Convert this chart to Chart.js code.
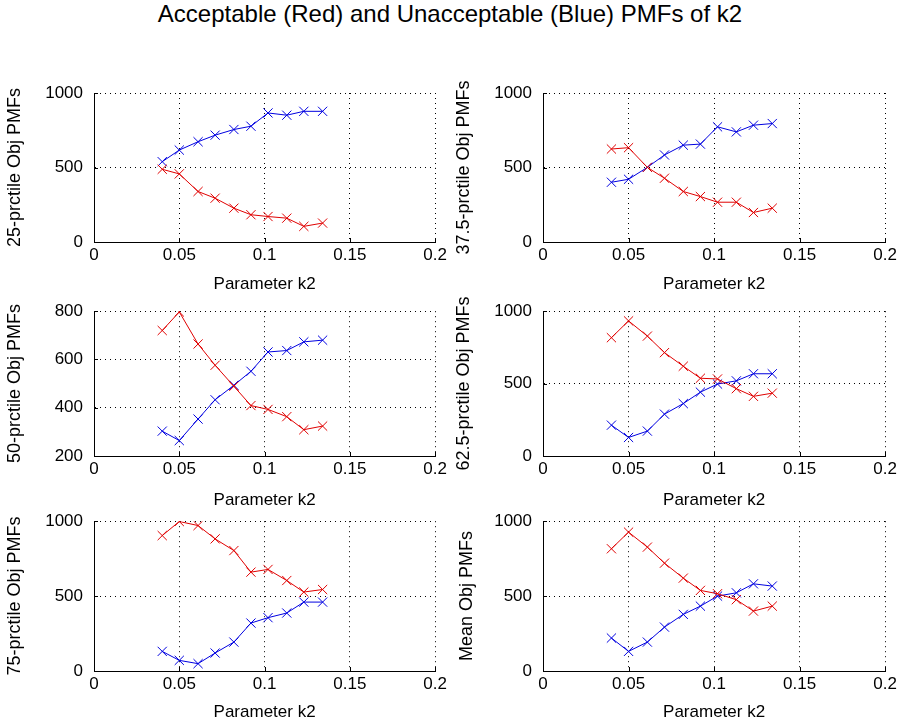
<!DOCTYPE html>
<html>
<head>
<meta charset="utf-8">
<script src="https://cdn.jsdelivr.net/npm/chart.js@4.4.1/dist/chart.umd.min.js"></script>
<style>
  html, body { margin: 0; padding: 0; background: #fff; }
  body { width: 900px; height: 725px; position: relative; overflow: hidden; }
  #main-title {
    position: absolute; left: 0; top: 0; width: 900px; text-align: center;
    font: 24px "Liberation Sans", Arial, sans-serif; color: #000;
  }
  canvas { position: absolute; }
</style>
</head>
<body>
<div id="main-title">Acceptable (Red) and Unacceptable (Blue) PMFs of k2</div>
<canvas id="c1"></canvas>
<canvas id="c2"></canvas>
<canvas id="c3"></canvas>
<canvas id="c4"></canvas>
<canvas id="c5"></canvas>
<canvas id="c6"></canvas>
<script>
// k2 sample points (shared by all panels)
const k2Values = [0.040, 0.050, 0.061, 0.071, 0.082, 0.092, 0.102, 0.113, 0.123, 0.134];

const xTicks = [0, 0.05, 0.1, 0.15, 0.2];
const xTitle = "Parameter k2";

const yTitles = [
  "25-prctile Obj PMFs",
  "37.5-prctile Obj PMFs",
  "50-prctile Obj PMFs",
  "62.5-prctile Obj PMFs",
  "75-prctile Obj PMFs",
  "Mean Obj PMFs",
];

const yTicks25 = [0, 500, 1000];
const yTicks375 = [0, 500, 1000];
const yTicks50 = [200, 400, 600, 800];
const yTicks625 = [0, 500, 1000];
const yTicks75 = [0, 500, 1000];
const yTicksMean = [0, 500, 1000];

// acceptable (red) and unacceptable (blue) values
const red25 = [488, 457, 339, 294, 227, 183, 171, 160, 105, 127];
const blue25 = [539, 617, 673, 717, 755, 777, 866, 851, 877, 877];

const red375 = [624, 633, 501, 428, 339, 305, 267, 267, 198, 227];
const blue375 = [401, 421, 501, 584, 650, 657, 773, 739, 784, 795];

const red50 = [720, 797, 664, 576, 489, 409, 393, 363, 309, 324];
const blue50 = [303, 264, 353, 433, 493, 551, 631, 637, 673, 680];

const red625 = [817, 933, 828, 714, 620, 537, 532, 465, 412, 434];
const blue625 = [213, 128, 172, 289, 362, 441, 497, 519, 568, 568];

const red75 = [904, 998, 971, 882, 804, 660, 678, 604, 527, 544];
const blue75 = [131, 71, 49, 120, 193, 320, 356, 387, 460, 460];

const redMean = [816, 927, 827, 720, 620, 538, 516, 476, 400, 433];
const blueMean = [220, 131, 193, 293, 378, 433, 500, 522, 582, 567];

const RED = "#e00000";
const BLUE = "#0000e0";
const FONT = "'Liberation Sans', Arial, sans-serif";

// layout: canvas box and plot box in page pixels
const panels = [
  { id: "c1", canvas: [0, 40, 450, 256], plot: [94, 93, 436, 242], yTitleX: 15, title: yTitles[0], ticks: yTicks25, red: red25, blue: blue25 },
  { id: "c2", canvas: [450, 40, 450, 256], plot: [543, 93, 887, 242], yTitleX: 14, title: yTitles[1], ticks: yTicks375, red: red375, blue: blue375 },
  { id: "c3", canvas: [0, 290, 450, 222], plot: [94, 307, 436, 456], yTitleX: 15, title: yTitles[2], ticks: yTicks50, red: red50, blue: blue50 },
  { id: "c4", canvas: [450, 290, 450, 222], plot: [543, 307, 887, 456], yTitleX: 14, title: yTitles[3], ticks: yTicks625, red: red625, blue: blue625 },
  { id: "c5", canvas: [0, 500, 450, 224], plot: [94, 521, 436, 671], yTitleX: 15, title: yTitles[4], ticks: yTicks75, red: red75, blue: blue75 },
  { id: "c6", canvas: [450, 500, 450, 224], plot: [543, 521, 887, 671], yTitleX: 17, title: yTitles[5], ticks: yTicksMean, red: redMean, blue: blueMean },
];

function toPoints(values) {
  return values.map((y, i) => ({ x: k2Values[i], y }));
}

// MATLAB-style inward tick marks on the left and bottom axes
const inwardTicks = {
  id: "inwardTicks",
  afterDraw(chart) {
    const { ctx, chartArea, scales } = chart;
    ctx.save();
    ctx.strokeStyle = "#000";
    ctx.lineWidth = 1;
    ctx.beginPath();
    scales.x.ticks.forEach((t) => {
      const px = Math.round(scales.x.getPixelForValue(t.value)) + 0.5;
      ctx.moveTo(px, chartArea.bottom);
      ctx.lineTo(px, chartArea.bottom - 4);
    });
    scales.y.ticks.forEach((t) => {
      const py = Math.round(scales.y.getPixelForValue(t.value)) + 0.5;
      ctx.moveTo(chartArea.left, py);
      ctx.lineTo(chartArea.left + 4, py);
    });
    ctx.stroke();
    ctx.restore();
  },
};

function makeDataset(values, color) {
  return {
    data: toPoints(values),
    borderColor: color,
    backgroundColor: color,
    borderWidth: 1,
    pointStyle: "crossRot",
    pointRadius: 6.5,
    pointBorderWidth: 1,
    pointBorderColor: color,
    tension: 0,
  };
}

panels.forEach((p) => {
  const el = document.getElementById(p.id);
  const [cl, ct, cw, ch] = p.canvas;
  const [pl, pt, pr, pb] = p.plot;
  el.width = cw;
  el.height = ch;
  el.style.left = cl + "px";
  el.style.top = ct + "px";
  const titleFont = 17;
  const titleLine = titleFont * 1.2;
  const yFont = 18;
  const yLine = yFont * 1.2;

  new Chart(el.getContext("2d"), {
    type: "line",
    data: { datasets: [makeDataset(p.red, RED), makeDataset(p.blue, BLUE)] },
    plugins: [inwardTicks],
    options: {
      responsive: false,
      animation: false,
      events: [],
      layout: { padding: { top: pt - ct, right: cl + cw - pr, left: 0, bottom: 0 } },
      plugins: { legend: { display: false }, tooltip: { enabled: false } },
      scales: {
        x: {
          type: "linear",
          min: xTicks[0],
          max: xTicks[xTicks.length - 1],
          afterBuildTicks: (scale) => { scale.ticks = xTicks.map((v) => ({ value: v })); },
          ticks: {
            color: "#000",
            font: { family: FONT, size: 17 },
            padding: 3,
            maxRotation: 0,
            autoSkip: false,
            callback: (v) => String(v),
          },
          grid: { color: "#000", lineWidth: 1, drawTicks: false },
          border: { display: true, color: "#000", width: 1, dash: [1, 4] },
          title: {
            display: true,
            text: xTitle,
            color: "#000",
            font: { family: FONT, size: titleFont },
            padding: { top: 0, bottom: 12 - titleLine / 2 },
          },
          afterFit: (scale) => { scale.height = ct + ch - pb; },
        },
        y: {
          type: "linear",
          min: p.ticks[0],
          max: p.ticks[p.ticks.length - 1],
          afterBuildTicks: (scale) => { scale.ticks = p.ticks.map((v) => ({ value: v })); },
          ticks: {
            color: "#000",
            font: { family: FONT, size: 17 },
            padding: 11,
            autoSkip: false,
            callback: (v) => String(v),
          },
          grid: { color: "#000", lineWidth: 1, drawTicks: false },
          border: { display: true, color: "#000", width: 1, dash: [1, 4] },
          title: {
            display: true,
            text: p.title,
            color: "#000",
            font: { family: FONT, size: yFont },
            padding: { top: p.yTitleX - yLine / 2, bottom: 0 },
          },
          afterFit: (scale) => { scale.width = pl - cl; },
        },
      },
    },
  });
});
</script>
</body>
</html>
